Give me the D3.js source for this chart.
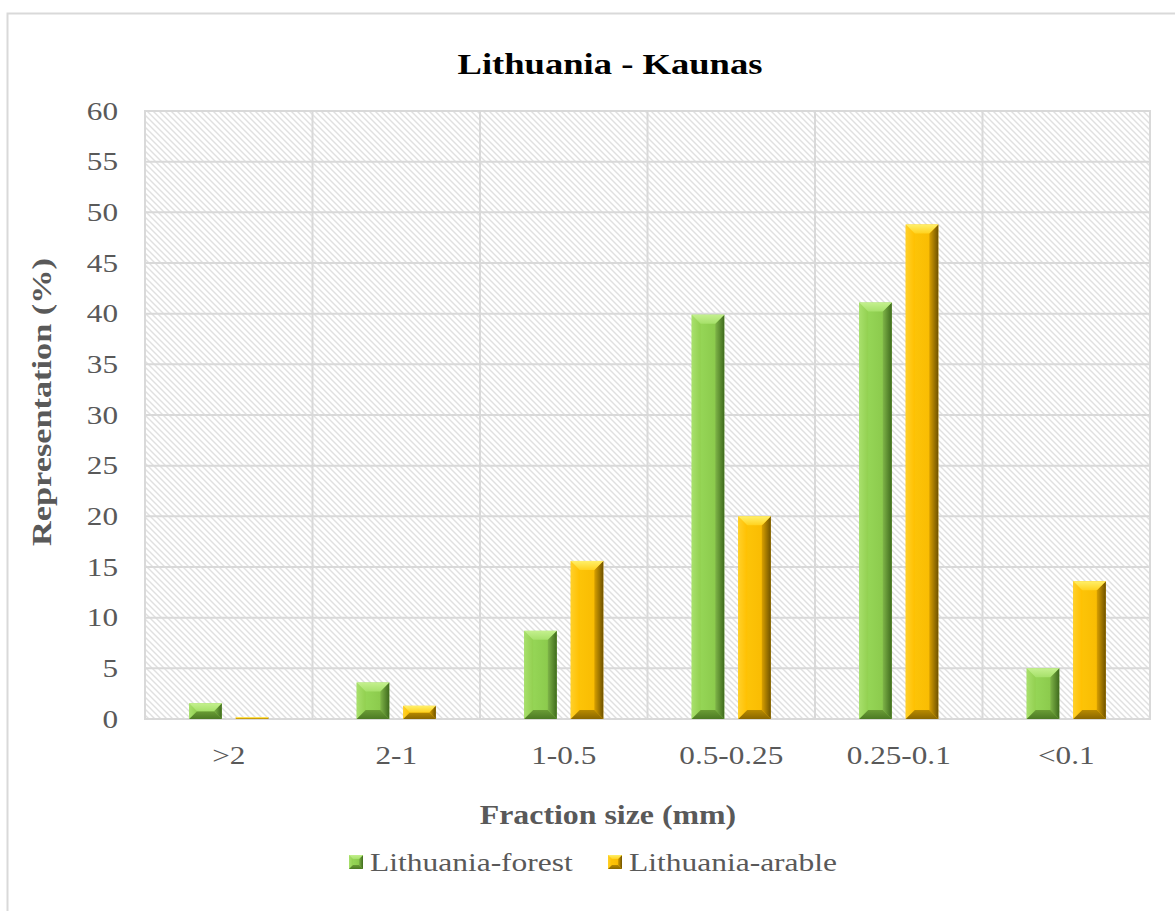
<!DOCTYPE html>
<html><head><meta charset="utf-8">
<script src="https://cdn.jsdelivr.net/npm/d3@7"></script>
<style>body{margin:0;background:#fff}svg{display:block}</style>
</head><body>
<script>
const categories = [">2", "2-1", "1-0.5", "0.5-0.25", "0.25-0.1", "<0.1"];
const seriesNames = ["Lithuania-forest", "Lithuania-arable"];
const forestValues = [1.55, 3.6, 8.7, 39.9, 41.1, 5.0];
const arableValues = [0.17, 1.3, 15.6, 20.0, 48.8, 13.6];
const yTicks = [0, 5, 10, 15, 20, 25, 30, 35, 40, 45, 50, 55, 60];
const title = "Lithuania - Kaunas";
const xTitle = "Fraction size (mm)";
const yTitle = "Representation (%)";

const W = 1175, H = 911;
const plot = {left: 145, right: 1150, top: 111, bottom: 719};
const font = "'Liberation Serif','Times New Roman',serif";
const gray = "#595959";

const svg = d3.select("body").append("svg").attr("width", W).attr("height", H);
svg.append("rect").attr("width", W).attr("height", H).attr("fill", "#fff");
svg.append("rect").attr("x", 7.5).attr("y", 13.5).attr("width", W).attr("height", H)
  .attr("fill", "none").attr("stroke", "#d9d9d9").attr("stroke-width", 2);

const defs = svg.append("defs");
const pat = defs.append("pattern").attr("id", "hatch").attr("patternUnits", "userSpaceOnUse")
  .attr("width", 6).attr("height", 6);
pat.append("rect").attr("width", 6).attr("height", 6).attr("fill", "#fff");
pat.append("path").attr("d", "M-1,-1 L7,7 M-4,2 L2,8 M4,-2 L8,2")
  .attr("stroke", "#e0e0e0").attr("stroke-width", 1.4);

function grad(id, c1, c2, vertical) {
  const g = defs.append("linearGradient").attr("id", id)
    .attr("x1", 0).attr("y1", 0).attr("x2", vertical ? 0 : 1).attr("y2", vertical ? 1 : 0);
  g.append("stop").attr("offset", "0%").attr("stop-color", c1);
  g.append("stop").attr("offset", "100%").attr("stop-color", c2);
  return `url(#${id})`;
}

const palettes = {
  "Lithuania-forest": {
    front: grad("gf-front", "#9bdc5c", "#86c447", false),
    top: grad("gf-top", "#c4f08e", "#a6e06a", true),
    left: grad("gf-left", "#a8e06c", "#92d050", false),
    right: grad("gf-right", "#7fb548", "#3f6b1d", false),
    bottom: grad("gf-bottom", "#6a9c35", "#4c7a24", true)
  },
  "Lithuania-arable": {
    front: grad("ga-front", "#ffc80a", "#f7b800", false),
    top: grad("ga-top", "#fff06a", "#ffd21f", true),
    left: grad("ga-left", "#ffd02a", "#ffc000", false),
    right: grad("ga-right", "#d9a000", "#6e5200", false),
    bottom: grad("ga-bottom", "#b88a00", "#8a6700", true)
  }
};

const x = d3.scaleBand().domain(categories).range([plot.left, plot.right]).padding(0);
const xs = d3.scaleBand().domain(seriesNames).range([0, x.bandwidth()]).paddingInner(0.3).paddingOuter(0.95);
const y = d3.scaleLinear().domain([0, 60]).range([plot.bottom, plot.top]);

svg.append("rect").attr("x", plot.left).attr("y", plot.top)
  .attr("width", plot.right - plot.left).attr("height", plot.bottom - plot.top)
  .attr("fill", "url(#hatch)").attr("stroke", "#d9d9d9").attr("stroke-width", 2);

svg.append("g").selectAll("line").data(yTicks).join("line")
  .attr("x1", plot.left).attr("x2", plot.right)
  .attr("y1", d => y(d)).attr("y2", d => y(d))
  .attr("stroke", "#d9d9d9").attr("stroke-width", 2);
const bounds = categories.map(c => x(c)).concat([plot.right]);
svg.append("g").selectAll("line").data(bounds).join("line")
  .attr("x1", d => d).attr("x2", d => d)
  .attr("y1", plot.top).attr("y2", plot.bottom)
  .attr("stroke", "#d9d9d9").attr("stroke-width", 2);

// horizontal glyph stretch about the text's anchor x
function stretch(sel, k) {
  sel.each(function() {
    const el = d3.select(this);
    const ax = +el.attr("x") || 0;
    const prev = el.attr("transform") || "";
    el.attr("transform", `${prev} translate(${ax * (1 - k)},0) scale(${k},1)`);
  });
}

const yAxis = d3.axisLeft(y).tickValues(yTicks).tickSize(0).tickPadding(27);
const gy = svg.append("g").attr("transform", `translate(${plot.left},0)`).call(yAxis);
gy.select(".domain").remove();
gy.selectAll("text").attr("font-family", font).attr("font-size", 26).attr("fill", gray).call(stretch, 1.2);

const xAxis = d3.axisBottom(x).tickSize(0).tickPadding(27);
const gx = svg.append("g").attr("transform", `translate(0,${plot.bottom})`).call(xAxis);
gx.select(".domain").remove();
gx.selectAll("text").attr("font-family", font).attr("font-size", 26).attr("fill", gray).call(stretch, 1.2);

function bevelBar(g, bx, by, bw, bh, pal, bev) {
  if (bh <= 0) return;
  const b = Math.min(bev, bh / 2, bw / 2);
  g.append("rect").attr("x", bx).attr("y", by).attr("width", bw).attr("height", bh).attr("fill", pal.front);
  const poly = (pts, fill) => g.append("polygon").attr("points", pts.map(p => p.join(",")).join(" ")).attr("fill", fill);
  poly([[bx, by], [bx + b, by + b], [bx + b, by + bh - b], [bx, by + bh]], pal.left);
  poly([[bx + bw, by], [bx + bw, by + bh], [bx + bw - b, by + bh - b], [bx + bw - b, by + b]], pal.right);
  poly([[bx, by + bh], [bx + bw, by + bh], [bx + bw - b, by + bh - b], [bx + b, by + bh - b]], pal.bottom);
  poly([[bx, by], [bx + bw, by], [bx + bw - b, by + b], [bx + b, by + b]], pal.top);
}

const data = [
  {name: seriesNames[0], values: forestValues},
  {name: seriesNames[1], values: arableValues}
];
const barsG = svg.append("g");
data.forEach(s => {
  s.values.forEach((v, i) => {
    const bx = x(categories[i]) + xs(s.name);
    bevelBar(barsG.append("g"), bx, y(v), xs.bandwidth(), y(0) - y(v), palettes[s.name], 9);
  });
});

svg.append("text").attr("x", 610).attr("y", 74).attr("text-anchor", "middle")
  .attr("font-family", font).attr("font-weight", "bold").attr("font-size", 30).attr("fill", "#000").text(title)
  .call(stretch, 1.22);
svg.append("text").attr("x", 608).attr("y", 824).attr("text-anchor", "middle")
  .attr("font-family", font).attr("font-weight", "bold").attr("font-size", 27).attr("fill", gray).text(xTitle)
  .call(stretch, 1.18);
svg.append("text").attr("transform", `translate(51,${(plot.top + plot.bottom) / 2 - 13}) rotate(-90)`).attr("text-anchor", "middle")
  .attr("font-family", font).attr("font-weight", "bold").attr("font-size", 27).attr("fill", gray).text(yTitle)
  .call(stretch, 1.27);

const legend = svg.append("g");
const legendItems = [{name: seriesNames[0], x: 349}, {name: seriesNames[1], x: 608}];
legendItems.forEach(it => {
  bevelBar(legend, it.x, 855, 14, 14, palettes[it.name], 4);
  legend.append("text").attr("x", it.x + 21).attr("y", 871)
    .attr("font-family", font).attr("font-size", 25).attr("fill", gray).text(it.name)
    .call(stretch, 1.26);
});
</script>
</body></html>
